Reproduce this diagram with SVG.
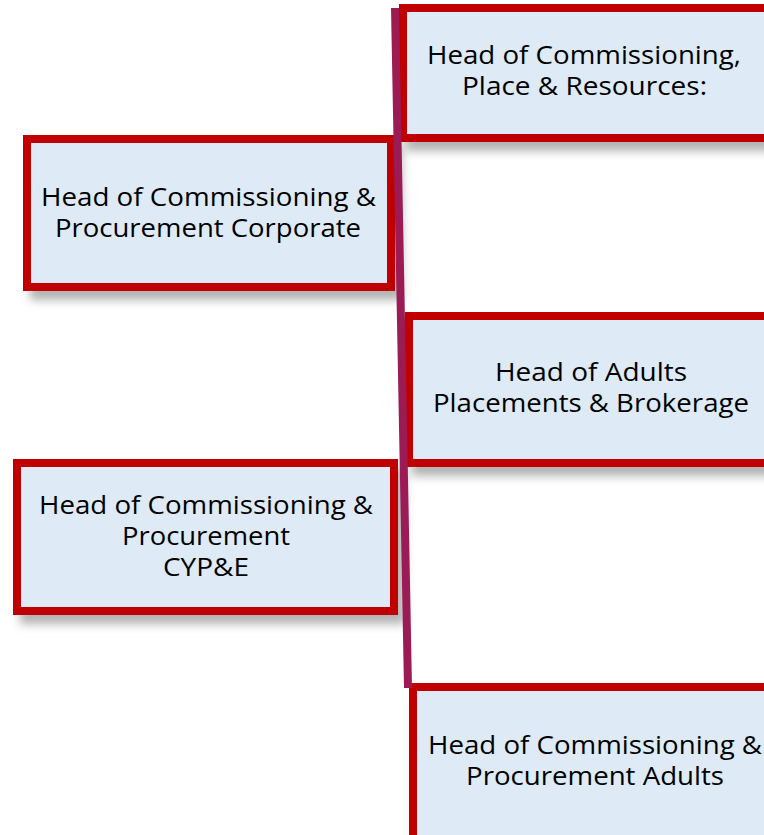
<svg xmlns="http://www.w3.org/2000/svg" width="764" height="835" viewBox="0 0 764 835">
  <defs>
    <filter id="shadow" x="-10%" y="-10%" width="130%" height="140%">
      <feDropShadow dx="7" dy="9" stdDeviation="5" flood-color="#000000" flood-opacity="0.3"/>
    </filter>
    <style>
      .box { fill: #DEEAF6; stroke: #C00000; stroke-width: 8; filter: url(#shadow); }
      .lbl { font-family: "Open Sans", "Noto Sans", "Liberation Sans", sans-serif; font-size: 25px; fill: #000000; text-anchor: middle; }
      .conn { stroke: #9B1B55; stroke-width: 8; fill: none; }
    </style>
  </defs>
  <rect width="764" height="835" fill="#FFFFFF"/>

  <g id="node-place-resources">
    <rect class="box" x="403" y="8" width="372" height="130"/>
    <text class="lbl" x="584" y="64" textLength="314" lengthAdjust="spacingAndGlyphs">Head of Commissioning,</text>
    <text class="lbl" x="584.5" y="95" textLength="245" lengthAdjust="spacingAndGlyphs">Place &amp; Resources:</text>
  </g>

  <g id="node-corporate">
    <rect class="box" x="27" y="139" width="364" height="148"/>
    <text class="lbl" x="208.5" y="206" textLength="335" lengthAdjust="spacingAndGlyphs">Head of Commissioning &amp;</text>
    <text class="lbl" x="208" y="237" textLength="306" lengthAdjust="spacingAndGlyphs">Procurement Corporate</text>
  </g>

  <g id="node-adults-placements">
    <rect class="box" x="409" y="316" width="366" height="147"/>
    <text class="lbl" x="591" y="381" textLength="192" lengthAdjust="spacingAndGlyphs">Head of Adults</text>
    <text class="lbl" x="591" y="412" textLength="316" lengthAdjust="spacingAndGlyphs">Placements &amp; Brokerage</text>
  </g>

  <g id="node-cype">
    <rect class="box" x="17" y="463" width="377" height="148"/>
    <text class="lbl" x="206" y="514" textLength="334" lengthAdjust="spacingAndGlyphs">Head of Commissioning &amp;</text>
    <text class="lbl" x="206" y="545" textLength="168" lengthAdjust="spacingAndGlyphs">Procurement</text>
    <text class="lbl" x="206" y="576" textLength="86" lengthAdjust="spacingAndGlyphs">CYP&amp;E</text>
  </g>

  <g id="node-adults">
    <rect class="box" x="413" y="687" width="362" height="160"/>
    <text class="lbl" x="595" y="754" textLength="334" lengthAdjust="spacingAndGlyphs">Head of Commissioning &amp;</text>
    <text class="lbl" x="595" y="785" textLength="258" lengthAdjust="spacingAndGlyphs">Procurement Adults</text>
  </g>

  <g id="connectors">
    <line class="conn" x1="395" y1="8" x2="408" y2="688"/>
  </g>
</svg>
